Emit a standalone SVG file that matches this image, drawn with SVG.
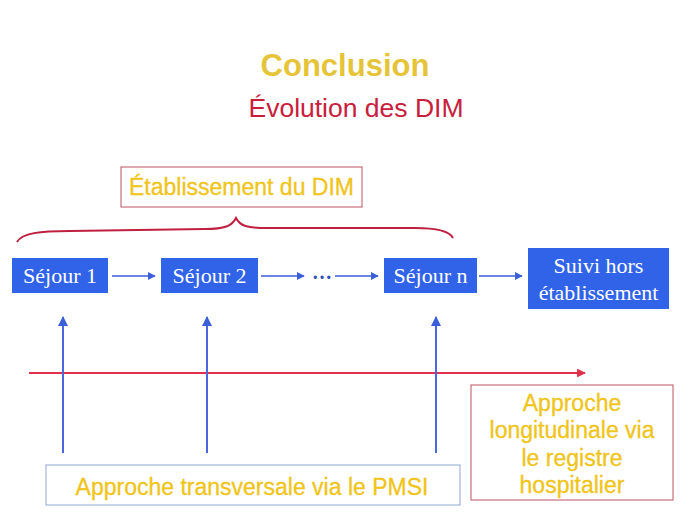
<svg xmlns="http://www.w3.org/2000/svg" width="689" height="517" viewBox="0 0 689 517">
<style>
.title{font-family:"Liberation Sans",Arial,sans-serif;font-weight:bold;font-size:31px;fill:#E6C43A;}
.sub{font-family:"Liberation Sans",Arial,sans-serif;font-size:26.5px;fill:#C8203C;}
.ylw{font-family:"Liberation Sans",Arial,sans-serif;font-size:23px;fill:#F0C419;stroke:#F0C419;stroke-width:0.3;}
.blk{fill:#3163E8;}
.btxt{font-family:"Liberation Serif","Times New Roman",serif;font-size:22px;fill:#FFFFFF;}
.flow{stroke:#3B5FD8;stroke-width:1.6;fill:none;}
.up{stroke:#4A68DC;stroke-width:2;fill:none;}
</style>
<defs>
<marker id="ah" viewBox="0 0 10 10" refX="9" refY="5" markerWidth="5" markerHeight="5" orient="auto" markerUnits="strokeWidth">
<path d="M0,0 L10,5 L0,10 z" fill="#3B5FD8"/>
</marker>
<marker id="ahr" viewBox="0 0 10 10" refX="9" refY="5" markerWidth="4" markerHeight="4" orient="auto" markerUnits="strokeWidth">
<path d="M0,0 L10,5 L0,10 z" fill="#E0304A"/>
</marker>
</defs>
<rect width="689" height="517" fill="#FFFFFF"/>

<text class="title" x="345" y="76" text-anchor="middle">Conclusion</text>
<text class="sub" x="356" y="117" text-anchor="middle">Évolution des DIM</text>

<g id="etab">
<rect x="121" y="167" width="241" height="40" fill="#FFFFFF" stroke="#C05060" stroke-width="1"/>
<text class="ylw" x="241.5" y="195" text-anchor="middle">Établissement du DIM</text>
</g>

<g id="brace">
<path d="M17,242 C22,233 40,231 70,231 L205,229 C225,229 232,226 236,218 C240,226 247,228 267,228 L415,228 C440,228 450,232 453,238" fill="none" stroke="#C02040" stroke-width="2"/>
</g>

<g id="sejour1">
<rect class="blk" x="12" y="258" width="96" height="35"/>
<text class="btxt" x="60" y="283" text-anchor="middle">Séjour 1</text>
</g>
<g id="sejour2">
<rect class="blk" x="161" y="258" width="97" height="35"/>
<text class="btxt" x="209.5" y="283" text-anchor="middle">Séjour 2</text>
</g>
<g id="dots">
<text x="322" y="279" text-anchor="middle" font-family="Liberation Serif, serif" font-size="20" font-weight="bold" fill="#3050C0">…</text>
</g>
<g id="sejourn">
<rect class="blk" x="384" y="258" width="93" height="35"/>
<text class="btxt" x="430.5" y="283" text-anchor="middle">Séjour n</text>
</g>
<g id="suivi">
<rect class="blk" x="528" y="248" width="141" height="61"/>
<text class="btxt" x="598.5" y="273" text-anchor="middle">Suivi hors</text>
<text class="btxt" x="598.5" y="300" text-anchor="middle">établissement</text>
</g>

<g id="connectors">
<line class="flow" x1="112" y1="276" x2="155" y2="276" marker-end="url(#ah)"/>
<line class="flow" x1="261" y1="276" x2="304" y2="276" marker-end="url(#ah)"/>
<line class="flow" x1="335" y1="276" x2="378" y2="276" marker-end="url(#ah)"/>
<line class="flow" x1="479" y1="276" x2="522" y2="276" marker-end="url(#ah)"/>
<line x1="29" y1="373" x2="585" y2="373" stroke="#E0304A" stroke-width="2.2" marker-end="url(#ahr)"/>
<line class="up" x1="63" y1="453" x2="63" y2="317" marker-end="url(#ah)"/>
<line class="up" x1="207" y1="453" x2="207" y2="317" marker-end="url(#ah)"/>
<line class="up" x1="436" y1="453" x2="436" y2="317" marker-end="url(#ah)"/>
</g>

<g id="pmsi">
<rect x="46" y="465" width="414" height="40" fill="#FFFFFF" stroke="#90A8D0" stroke-width="1"/>
<text class="ylw" x="252" y="495" text-anchor="middle">Approche transversale via le PMSI</text>
</g>

<g id="longi">
<rect x="471" y="385" width="202" height="115" fill="#FFFFFF" stroke="#C05060" stroke-width="1"/>
<text class="ylw" x="572" y="411" text-anchor="middle">Approche</text>
<text class="ylw" x="572" y="438" text-anchor="middle">longitudinale via</text>
<text class="ylw" x="572" y="466" text-anchor="middle">le registre</text>
<text class="ylw" x="572" y="493" text-anchor="middle">hospitalier</text>
</g>
</svg>
